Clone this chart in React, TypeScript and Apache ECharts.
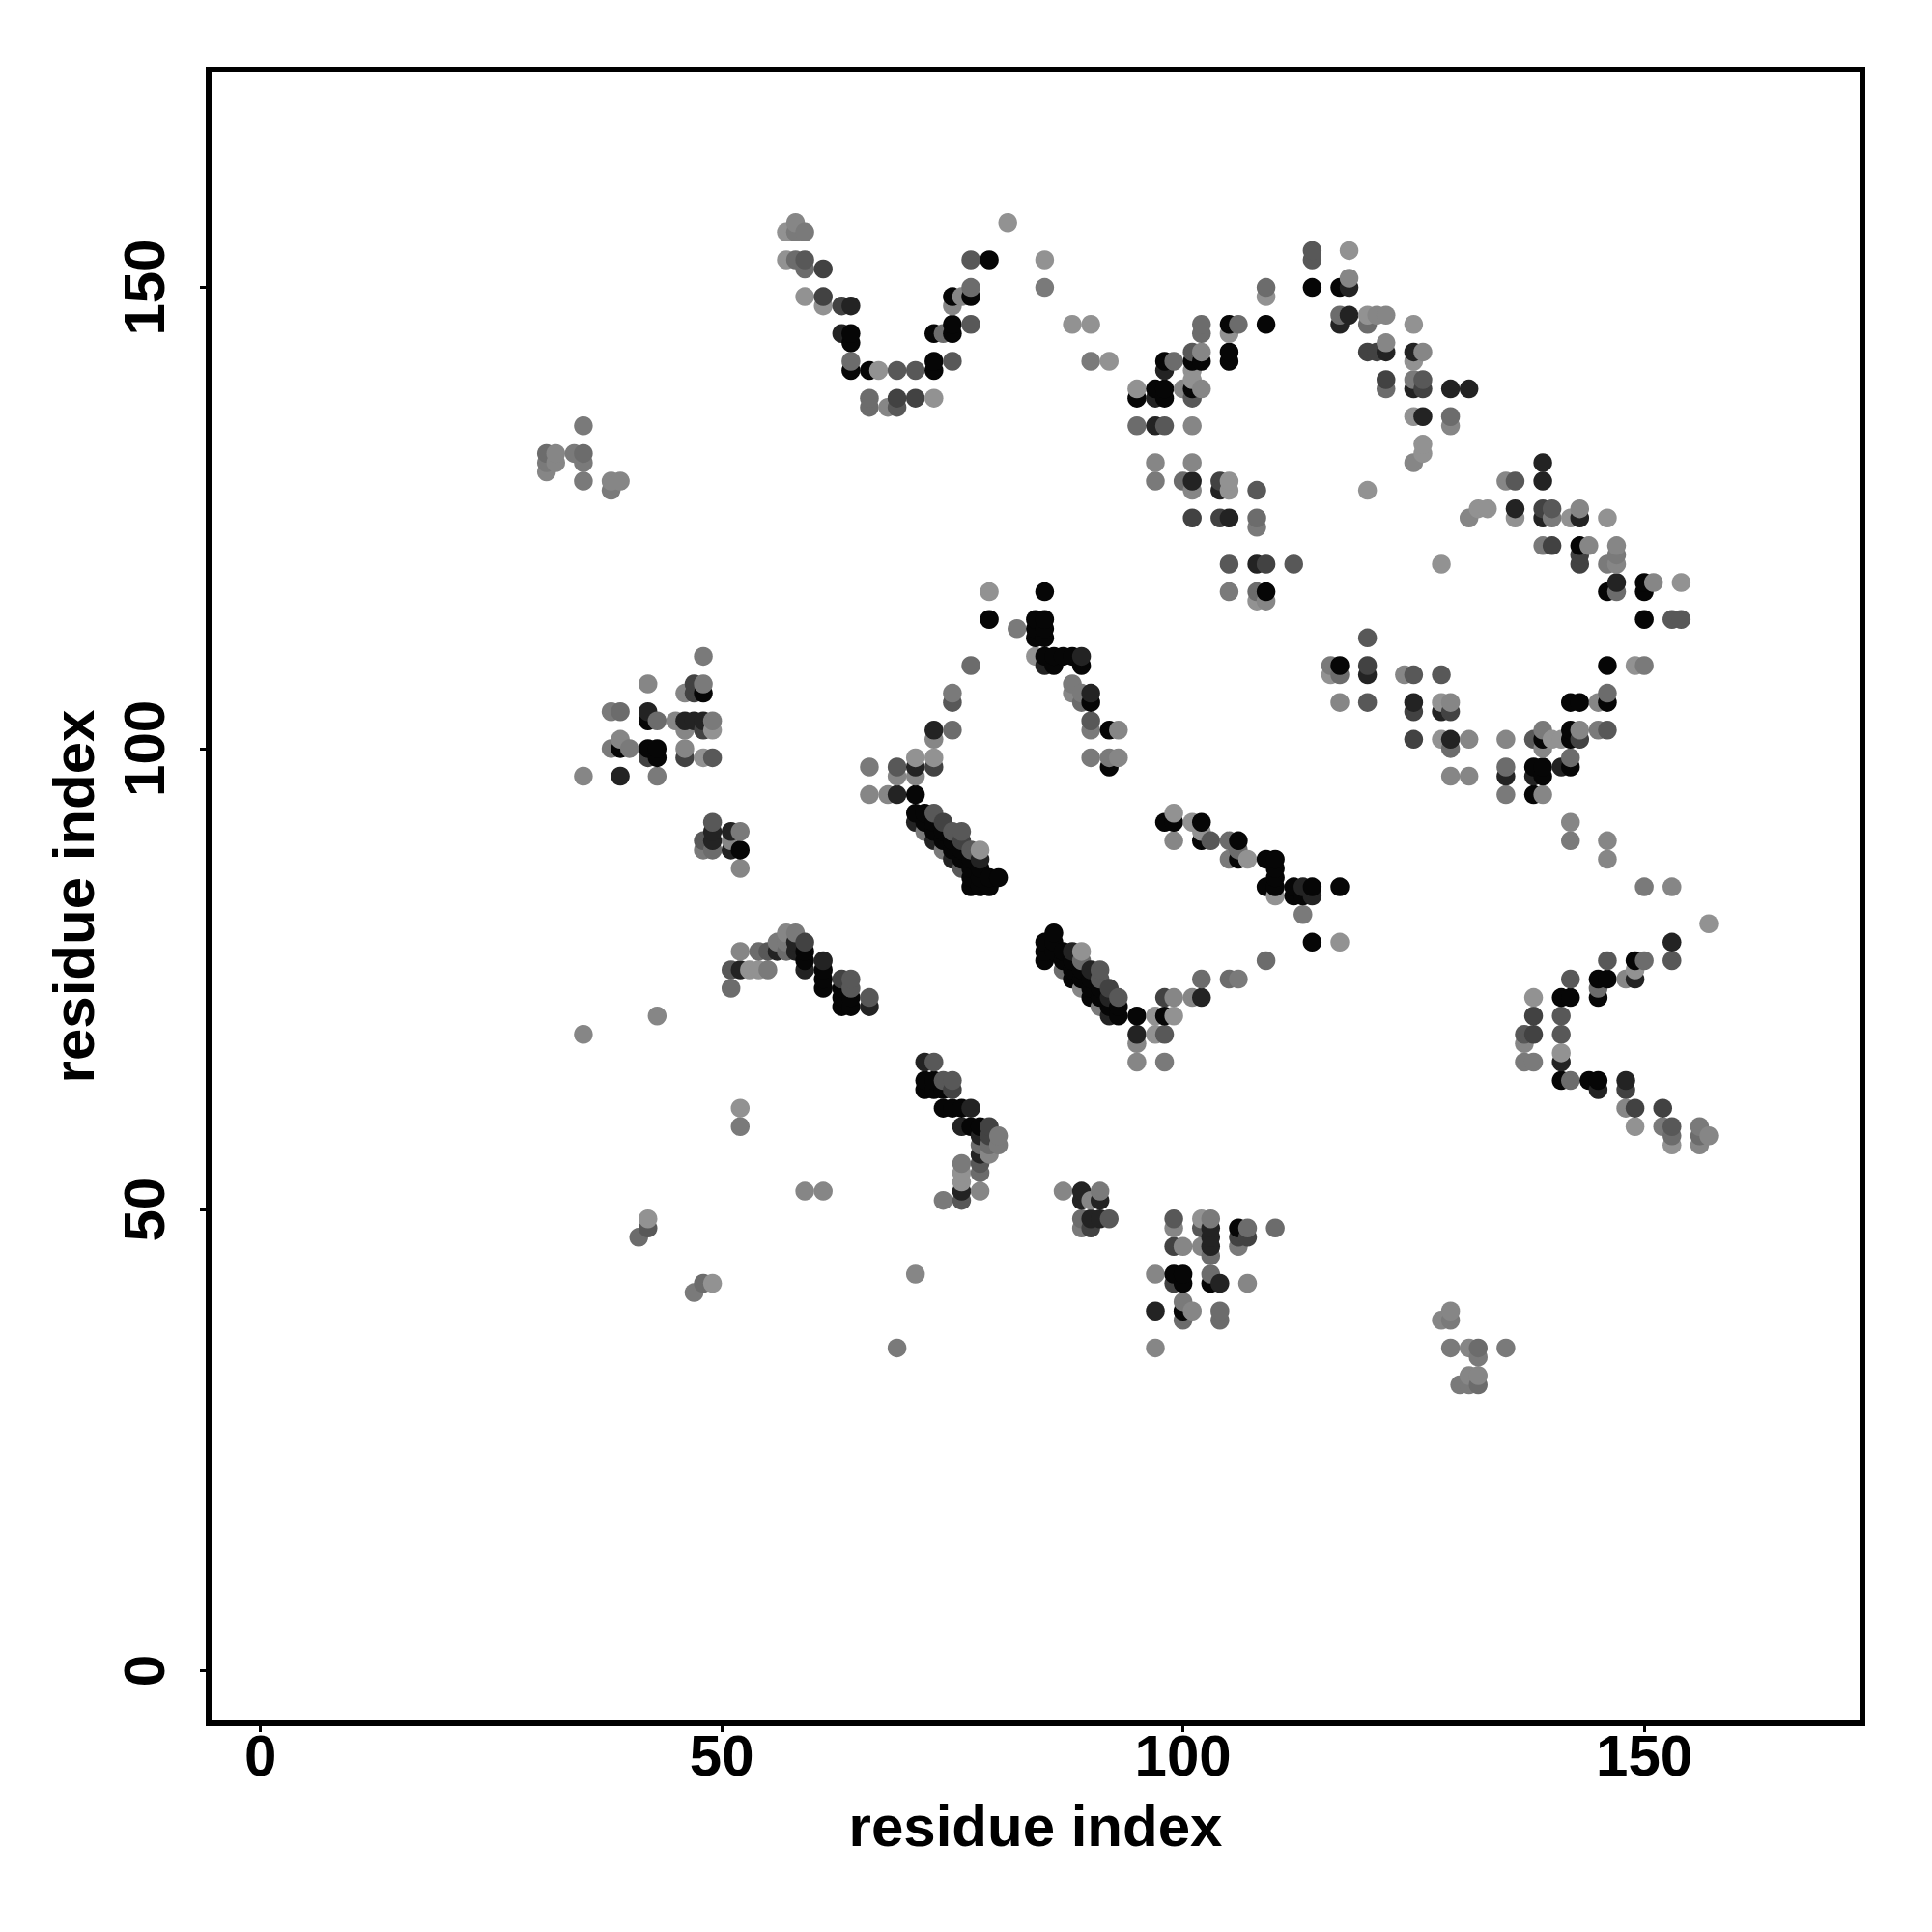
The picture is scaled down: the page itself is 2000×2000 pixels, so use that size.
import React, { useEffect, useRef } from "react";
import * as echarts from "echarts";

// grey tone of a contact, from darkest (0) to lightest (7)
const tones = ["#060606", "#232323", "#424242", "#585858", "#6c6c6c", "#7a7a7a", "#868686", "#929292"];
const tickValues = [0, 50, 100, 150];
const axisName = "residue index";

const leftTop = [[31,132,4],[31,131,5],[31,130,6],[32,132,6],[32,131,6],[34,132,5],[35,132,4],[35,131,5],[35,135,5],[35,129,5],[38,129,6],[39,129,6],[38,128,5]];
const hairpinTop = [[58,157,6],[57,156,7],[58,156,5],[59,156,5],[57,153,7],[58,153,4],[59,153,3],[59,152,4],[61,152,2],[59,149,7],[61,149,2],[61,148,7],[63,148,2],[64,148,1],[63,145,1],[64,145,0],[64,144,0],[64,142,4],[64,141,0],[66,141,0],[67,141,7],[69,141,3],[71,141,3],[73,141,0],[73,142,0],[75,142,3],[66,138,4],[66,137,4],[68,137,6],[69,138,2],[69,137,3],[71,138,2],[73,138,7],[73,145,0],[74,145,4],[75,145,0],[75,146,0],[77,146,3],[75,149,0],[76,149,6],[77,149,0],[77,150,4],[75,148,6],[77,153,3],[79,153,0],[81,157,7],[85,153,7],[85,150,5],[88,146,7],[90,146,7],[90,142,5],[92,142,7]];
const upperMiddle = [[102,146,4],[102,145,4],[105,146,0],[106,146,4],[105,145,7],[109,146,0],[109,150,4],[109,149,7],[98,142,0],[99,142,4],[98,141,1],[101,143,3],[102,143,6],[101,142,0],[102,142,0],[105,143,0],[105,142,0],[101,141,7],[101,140,7],[95,139,7],[95,138,0],[97,139,0],[98,139,0],[97,138,1],[98,138,0],[100,139,6],[101,139,0],[102,139,6],[101,138,3],[95,135,4],[97,135,1],[98,135,3],[101,135,6],[97,131,6],[101,131,6],[97,129,5],[100,129,4],[101,129,1],[101,128,6],[104,129,2],[104,128,1],[105,129,7],[105,128,7],[108,128,3],[101,125,2],[104,125,2],[105,125,1],[108,125,4],[108,124,5],[105,120,3],[108,120,1],[109,120,2],[112,120,3],[128,120,7],[105,117,5],[108,117,4],[109,117,0],[108,116,7],[109,116,6]];
const upperRight = [[114,154,3],[114,153,3],[114,150,0],[117,150,0],[118,150,1],[118,151,6],[118,154,7],[117,147,4],[118,147,1],[117,146,1],[120,147,7],[121,147,6],[122,147,6],[120,146,4],[125,146,7],[120,143,2],[121,143,2],[122,143,1],[122,144,6],[125,143,1],[126,143,6],[125,142,7],[122,140,2],[122,139,4],[125,140,5],[126,140,3],[125,139,1],[126,139,2],[129,139,1],[131,139,1],[125,136,7],[126,136,1],[129,136,4],[129,135,6],[126,133,7],[126,132,7],[125,131,6],[120,128,7],[135,129,6],[136,129,3],[139,131,1],[139,129,1],[131,125,6],[132,126,7],[133,126,7],[136,126,1],[136,125,7],[139,126,2],[140,126,3],[139,125,1],[140,125,5],[142,125,7],[143,126,6],[143,125,1],[146,125,7],[139,122,5],[140,122,2],[143,122,0],[144,122,6],[143,121,2],[143,120,2],[147,122,6],[147,121,5],[147,120,6],[146,120,5],[147,118,1],[146,117,0],[147,117,4],[150,118,0],[151,118,6],[150,117,0],[154,118,7],[150,114,0],[153,114,3],[154,114,3]];
const centreBlock = [[79,117,7],[79,114,0],[82,113,5],[85,117,0],[84,114,0],[85,114,0],[84,113,0],[85,113,0],[84,112,0],[85,112,0],[84,110,7],[85,110,0],[85,109,1],[86,110,0],[87,110,0],[88,110,0],[89,110,1],[86,109,0],[89,109,0],[88,107,5],[88,106,6],[89,105,4],[90,106,1],[89,106,5],[90,105,0],[90,103,3],[90,102,5],[92,102,0],[93,102,6],[90,99,5],[92,99,5],[93,99,6],[92,98,0]];
const leftMiddle = [[48,110,5],[42,107,6],[46,106,6],[47,107,2],[47,106,2],[48,107,5],[48,106,0],[38,104,5],[39,104,4],[42,104,1],[42,103,0],[43,103,4],[45,103,6],[46,103,1],[47,103,1],[48,103,1],[49,103,5],[46,102,6],[48,102,2],[49,102,7],[39,101,6],[38,100,5],[39,100,0],[40,100,5],[42,100,0],[43,100,0],[42,99,2],[43,99,0],[46,100,6],[46,99,2],[48,99,7],[49,99,3],[35,97,6],[39,97,1],[43,97,5],[49,92,3],[49,91,1],[49,90,1],[48,90,3],[48,89,5],[49,89,4],[51,91,1],[52,91,5],[51,90,6],[51,89,1],[52,89,0],[52,87,6]];
const firstDiagonal = [[77,109,4],[75,106,5],[75,105,3],[73,102,1],[75,102,4],[73,101,6],[66,98,5],[69,98,3],[71,99,7],[73,99,7],[71,98,1],[73,98,2],[69,97,6],[71,97,6],[66,95,6],[68,95,6],[69,95,1],[71,95,0],[71,93,0],[72,93,0],[73,93,3],[71,92,1],[72,92,0],[73,92,0],[74,92,2],[72,91,5],[73,91,0],[74,91,0],[75,91,3],[76,91,3],[73,90,1],[74,90,0],[75,90,0],[76,90,2],[74,89,5],[75,89,0],[76,89,0],[77,89,3],[78,89,7],[75,88,1],[76,88,0],[77,88,0],[78,88,1],[76,87,3],[77,87,0],[78,87,0],[77,86,0],[78,86,0],[79,86,0],[80,86,0],[77,85,0],[78,85,0],[79,85,0]];
const secondDiagonal = [[86,80,0],[85,79,0],[86,79,0],[85,78,0],[86,78,0],[85,77,0],[87,78,0],[88,78,1],[89,78,7],[87,77,0],[88,77,0],[89,77,4],[87,76,4],[88,76,0],[89,76,0],[90,76,1],[91,76,3],[88,75,0],[89,75,0],[90,75,0],[91,75,3],[89,74,6],[90,74,0],[91,74,0],[92,74,2],[90,73,0],[91,73,0],[92,73,1],[93,73,3],[91,72,5],[92,72,0],[93,72,0],[92,71,1],[93,71,0],[95,71,0],[95,69,1],[95,68,6],[95,66,6],[98,66,5],[97,71,7],[98,71,0],[99,71,7],[97,69,7],[98,69,3],[98,73,2],[99,73,6],[101,73,6],[102,73,1],[102,75,4],[105,75,4],[106,75,5],[109,77,4],[114,79,0],[117,79,7]];
const thirdDiagonal = [[98,92,0],[99,92,0],[99,93,7],[99,90,6],[101,92,7],[102,92,0],[102,90,0],[103,90,3],[102,91,7],[105,90,4],[106,90,0],[105,88,5],[106,88,0],[106,89,4],[107,88,7],[109,88,0],[110,88,0],[110,87,0],[110,86,0],[109,85,0],[110,85,0],[110,84,7],[112,85,0],[113,85,1],[114,85,0],[112,84,0],[113,84,0],[114,84,1],[113,82,5],[117,85,0]];
const rightMiddle = [[116,109,5],[117,109,0],[116,108,7],[117,108,4],[120,112,3],[120,109,2],[120,108,1],[124,108,6],[125,108,3],[128,108,3],[117,105,6],[120,105,3],[125,105,1],[125,104,2],[128,105,7],[129,105,6],[128,104,1],[129,104,2],[125,101,2],[128,101,7],[129,101,1],[129,100,4],[131,101,6],[129,97,6],[131,97,6],[135,101,6],[135,98,4],[135,97,1],[135,95,5],[138,101,3],[139,101,0],[139,102,5],[140,101,7],[141,101,7],[139,100,6],[138,98,0],[139,98,0],[138,97,1],[139,97,0],[138,95,0],[139,95,6],[141,98,1],[142,98,0],[142,99,4],[142,102,0],[143,102,6],[142,101,0],[143,101,2],[145,102,5],[146,102,3],[142,105,0],[143,105,0],[145,105,6],[146,105,0],[146,106,4],[146,109,0],[149,109,7],[150,109,5],[142,92,6],[142,90,5],[146,90,6],[146,88,6],[150,85,5],[153,85,6],[157,81,7]];
const turnLeft = [[51,74,4],[51,76,3],[52,76,1],[52,78,6],[53,76,7],[54,76,7],[55,76,5],[54,78,4],[55,78,3],[56,78,1],[56,79,5],[57,80,6],[58,80,5],[57,79,5],[57,78,4],[58,79,1],[58,78,1],[59,79,2],[59,78,0],[59,77,0],[59,76,1],[61,77,1],[61,76,0],[61,75,0],[61,74,0],[63,75,2],[64,75,3],[64,74,3],[63,74,0],[63,73,0],[64,73,0],[63,72,0],[64,72,0],[66,73,3],[66,72,1],[35,69,6],[43,71,6],[52,61,7],[52,59,5]];
const lowerMiddle = [[72,66,1],[73,66,3],[72,64,0],[73,64,0],[74,64,3],[75,64,3],[72,63,0],[73,63,0],[74,63,0],[75,63,2],[74,61,0],[75,61,0],[76,61,0],[77,61,1],[76,59,1],[77,59,0],[78,59,0],[79,59,2],[78,58,1],[79,58,2],[80,58,5],[78,57,4],[79,57,4],[80,57,5],[78,56,1],[79,56,6],[78,55,3],[76,55,5],[76,54,7],[78,54,4],[76,53,7],[76,52,1],[76,51,3],[74,51,5],[78,52,6],[87,52,6],[89,52,1],[91,52,5],[89,51,1],[90,51,6],[91,51,1],[89,49,4],[90,49,1],[91,49,1],[92,49,3],[89,48,5],[90,48,2],[71,43,6],[69,35,5],[59,52,6],[61,52,6],[42,49,7],[42,48,3],[41,47,4],[48,42,4],[49,42,7],[47,41,5]];
const lowerCluster = [[99,49,3],[99,48,6],[102,49,7],[103,49,5],[102,48,3],[103,48,1],[103,47,1],[103,46,1],[103,45,4],[106,48,0],[107,48,4],[106,47,2],[107,47,2],[106,46,5],[110,48,4],[99,46,2],[100,46,6],[102,46,6],[97,43,6],[99,43,0],[100,43,0],[99,42,2],[100,42,0],[103,43,4],[103,42,0],[104,42,1],[107,42,6],[100,40,5],[101,39,6],[100,39,0],[100,38,4],[97,39,1],[104,39,4],[104,38,4],[97,35,6],[129,39,6],[128,38,6],[129,38,5],[129,35,5],[131,35,6],[132,35,4],[132,34,5],[135,35,5],[131,32,6],[132,32,6],[130,31,5],[131,31,5],[132,31,4]];
const rightArc = [[153,79,1],[153,77,3],[146,77,3],[149,77,0],[150,77,4],[149,76,7],[148,75,6],[149,75,1],[145,75,0],[146,75,0],[145,74,4],[145,73,0],[142,75,3],[141,73,0],[142,73,0],[138,73,7],[138,71,2],[141,71,3],[137,69,3],[138,69,2],[141,69,3],[137,68,6],[141,67,7],[141,66,1],[137,66,5],[138,66,5],[141,64,0],[142,64,4],[144,64,0],[145,64,0],[145,63,1],[148,64,1],[148,63,2],[148,61,6],[149,61,2],[152,61,2],[149,59,7],[152,59,5],[153,59,3],[153,58,4],[153,57,7],[156,59,5],[156,58,4],[156,57,6],[157,58,6]];

const clusters = [leftTop, hairpinTop, upperMiddle, upperRight, centreBlock, leftMiddle, firstDiagonal, secondDiagonal, thirdDiagonal, rightMiddle, turnLeft, lowerMiddle, lowerCluster, rightArc];

const labelFont = { fontFamily: "Liberation Sans", fontWeight: "bold" as const, fontSize: 60, color: "#000" };

export default function App() {
  const ref = useRef<HTMLDivElement>(null);
  useEffect(() => {
    const chart = echarts.init(ref.current!, undefined, { renderer: "svg" });
    // later residues are painted over earlier ones
    const points = clusters.flat().slice().sort((a, b) => a[0] - b[0] || a[1] - b[1]);
    const axisCommon = {
      type: "value" as const,
      name: axisName,
      nameLocation: "middle" as const,
      nameTextStyle: labelFont,
      splitLine: { show: false },
      axisLine: { show: false, onZero: false },
      axisTick: { show: true, length: 9, inside: false, customValues: tickValues, lineStyle: { color: "#000", width: 3 } },
    };
    chart.setOption({
      animation: false,
      backgroundColor: "#fff",
      grid: { show: true, left: 216, top: 72, right: 72, bottom: 216, borderColor: "#000", borderWidth: 6, backgroundColor: "transparent" },
      xAxis: {
        ...axisCommon,
        min: -5.62,
        max: 173.65,
        nameGap: 76,
        axisLabel: { ...labelFont, margin: 3, customValues: tickValues, showMinLabel: true, showMaxLabel: true },
      },
      yAxis: {
        ...axisCommon,
        min: -5.71,
        max: 173.63,
        nameGap: 110,
        axisLabel: { ...labelFont, margin: 37, rotate: 90, customValues: tickValues },
      },
      series: [
        {
          type: "scatter",
          symbol: "circle",
          symbolSize: 19.5,
          silent: true,
          data: points,
          itemStyle: { opacity: 1, color: (p: any) => tones[p.value[2]] },
        },
      ],
    });
    return () => chart.dispose();
  }, []);
  return <div ref={ref} style={{ position: "absolute", left: 0, top: 0, width: 2000, height: 2000 }} />;
}
